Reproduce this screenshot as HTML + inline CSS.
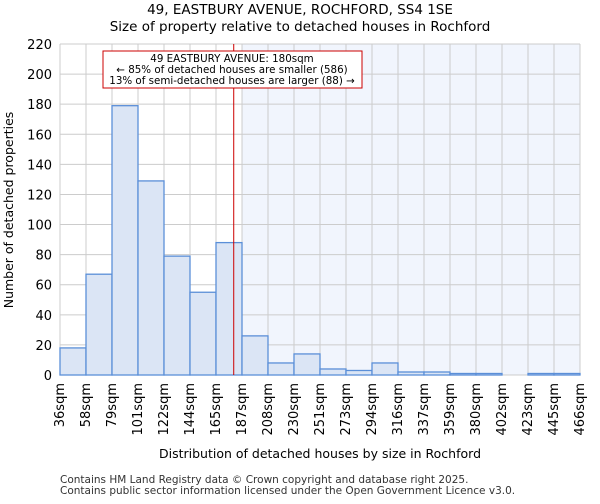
<!DOCTYPE html>
<html><head><meta charset="utf-8"><style>
body{margin:0;background:#fff;font-family:"DejaVu Sans","Liberation Sans",sans-serif;}
</style></head><body>
<svg id="chart" width="600" height="500" xmlns="http://www.w3.org/2000/svg" font-family="DejaVu Sans, Liberation Sans, sans-serif">
<text x="300" y="14" text-anchor="middle" font-size="13.5">49, EASTBURY AVENUE, ROCHFORD, SS4 1SE</text>
<text x="300" y="31" text-anchor="middle" font-size="13.5">Size of property relative to detached houses in Rochford</text>
<g id="plot"></g>
<text x="320" y="458" text-anchor="middle" font-size="12.5">Distribution of detached houses by size in Rochford</text>
<text transform="translate(13,210) rotate(-90)" text-anchor="middle" font-size="12.5">Number of detached properties</text>
<text x="60" y="483" font-size="10.5" fill="#333">Contains HM Land Registry data © Crown copyright and database right 2025.</text>
<text x="60" y="494" font-size="10.5" fill="#333">Contains public sector information licensed under the Open Government Licence v3.0.</text>
</svg>
<script>
const categories=["36sqm","58sqm","79sqm","101sqm","122sqm","144sqm","165sqm","187sqm","208sqm","230sqm","251sqm","273sqm","294sqm","316sqm","337sqm","359sqm","380sqm","402sqm","423sqm","445sqm","466sqm"];
const counts=[18,67,179,129,79,55,88,26,8,14,4,3,8,2,2,1,1,0,1,1];
const yTicks=[0,20,40,60,80,100,120,140,160,180,200,220];
const binEdges=[36,58,79,101,122,144,165,187,208,230,251,273,294,316,337,359,380,402,423,445,466];
const propertySize=180;
const NS="http://www.w3.org/2000/svg";
const L=60,R=580,T=44,B=375,yMax=220;
const n=counts.length,bw=(R-L)/n;
const yS=v=>B-(v/yMax)*(B-T);
const xBin=i=>L+i*bw;
function xVal(v){let i=0;while(i<binEdges.length-2&&v>binEdges[i+1])i++;return xBin(i)+(v-binEdges[i])/(binEdges[i+1]-binEdges[i])*bw;}
const g=document.getElementById('plot');
function mk(t,a){const e=document.createElementNS(NS,t);for(const k in a)e.setAttribute(k,a[k]);g.appendChild(e);return e;}
let hiIdx=0;while(hiIdx<n&&binEdges[hiIdx+1]<=propertySize)hiIdx++;
const hx=xBin(hiIdx+1);
let e=mk('rect',{x:hx,y:T,width:R-hx,height:B-T,fill:'#f1f5fd'});


for(let i=0;i<=n;i++){e=mk('line',{x1:xBin(i),x2:xBin(i),y1:T,y2:B,stroke:'#cccccc','stroke-width':1});

}
yTicks.forEach(t=>{e=mk('line',{x1:L,x2:R,y1:yS(t),y2:yS(t),stroke:'#cccccc','stroke-width':1});


e=mk('text',{x:L-8,y:yS(t)+5,'text-anchor':'end','font-size':'13'});e.textContent=t;

});
counts.forEach((c,i)=>{if(c<=0)return;e=mk('rect',{x:xBin(i),y:yS(c),width:bw,height:B-yS(c),fill:'#dbe5f5',stroke:'#5b8fd8','stroke-width':1.3});

});
categories.forEach((c,i)=>{const x=xBin(i)+4;e=mk('text',{x:x,y:B+8,'text-anchor':'end','font-size':'13',transform:`rotate(-90 ${x} ${B+8})`});e.textContent=c;

});
const mx=xVal(propertySize);
e=mk('line',{x1:mx,x2:mx,y1:T,y2:B,stroke:'#cc0000','stroke-width':1});


e=mk('rect',{x:103,y:51,width:259,height:37,fill:'#fff',stroke:'#cc0000','stroke-width':1});


["49 EASTBURY AVENUE: 180sqm","← 85% of detached houses are smaller (586)","13% of semi-detached houses are larger (88) →"].forEach((s,k)=>{e=mk('text',{x:232,y:62+k*11,'text-anchor':'middle','font-size':'10.3'});e.textContent=s;

});
</script>
</body></html>
